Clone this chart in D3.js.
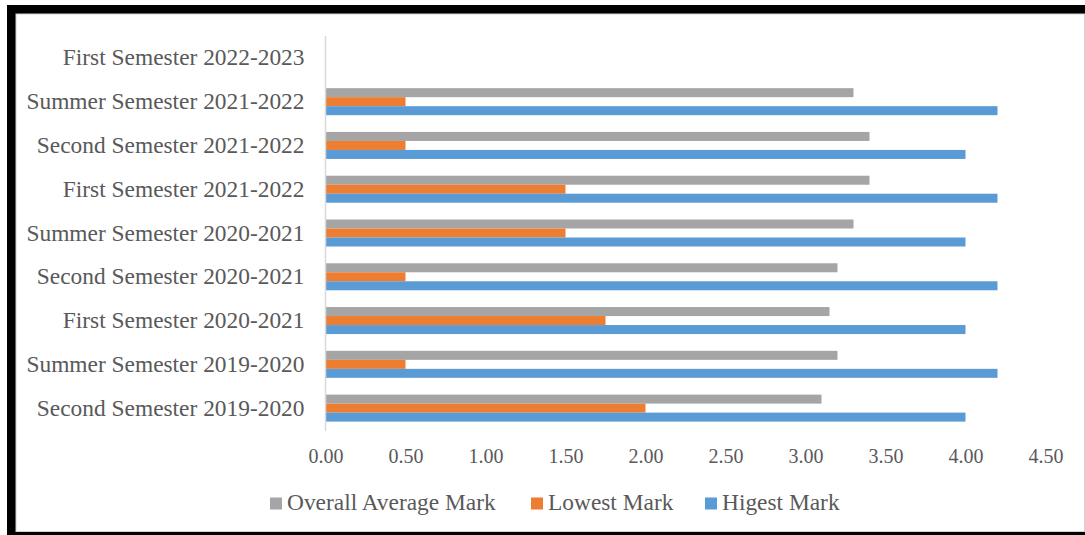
<!DOCTYPE html>
<html>
<head>
<meta charset="utf-8">
<script src="https://cdn.jsdelivr.net/npm/d3@7"></script>
<style>
  html, body { margin: 0; padding: 0; background: #fff; }
  svg { display: block; }
  text { font-family: "Liberation Serif", "Times New Roman", serif; }
</style>
</head>
<body>
<svg id="chart" width="1085" height="535"></svg>
<script>
// ---- Data ----
const categories = [
  "First Semester 2022-2023",
  "Summer Semester 2021-2022",
  "Second Semester 2021-2022",
  "First Semester 2021-2022",
  "Summer Semester 2020-2021",
  "Second Semester 2020-2021",
  "First Semester 2020-2021",
  "Summer Semester 2019-2020",
  "Second Semester 2019-2020"
];
const seriesNames = ["Overall Average Mark", "Lowest Mark", "Higest Mark"];
const averageMark = [null, 3.3, 3.4, 3.4, 3.3, 3.2, 3.15, 3.2, 3.1];
const lowestMark  = [null, 0.5, 0.5, 1.5, 1.5, 0.5, 1.75, 0.5, 2.0];
const highestMark = [null, 4.2, 4.0, 4.2, 4.0, 4.2, 4.0, 4.2, 4.0];
const xTicks = [0, 0.5, 1.0, 1.5, 2.0, 2.5, 3.0, 3.5, 4.0, 4.5];
const seriesColors = ["#A5A5A5", "#ED7D31", "#5B9BD5"];

const seriesValues = [averageMark, lowestMark, highestMark];

const svg = d3.select("#chart");

// Frame
svg.append("rect").attr("x", 7).attr("y", 5).attr("width", 1200).attr("height", 600).attr("fill", "#000");
svg.append("rect").attr("x", 16).attr("y", 14).attr("width", 1068.5).attr("height", 517.5)
  .attr("fill", "#fff").attr("stroke", "#d0d0d0").attr("stroke-width", 1);

// Scales
const x = d3.scaleLinear().domain([0, 4.5]).range([325.5, 1045.5]);
const y0 = d3.scaleBand().domain(categories).range([36, 430]).paddingInner(0).paddingOuter(0);
const p = (y0.bandwidth() / 9 - 3) / 2;
const y1 = d3.scaleBand().domain(seriesNames).range([0, y0.bandwidth()]).paddingInner(0).paddingOuter(p);
const color = d3.scaleOrdinal().domain(seriesNames).range(seriesColors);

// Bars
const rows = categories.map((c, i) => ({
  cat: c,
  vals: seriesNames.map((s, k) => ({ s, v: seriesValues[k][i] }))
}));

const g = svg.append("g");
const groups = g.selectAll("g.row").data(rows).join("g")
  .attr("transform", d => `translate(0,${y0(d.cat)})`);
groups.selectAll("rect").data(d => d.vals.filter(e => e.v != null)).join("rect")
  .attr("x", x(0))
  .attr("y", d => y1(d.s))
  .attr("width", d => x(d.v) - x(0))
  .attr("height", y1.bandwidth())
  .attr("fill", d => color(d.s));

// Category axis line
svg.append("line")
  .attr("x1", x(0)).attr("x2", x(0))
  .attr("y1", 36).attr("y2", 431)
  .attr("stroke", "#d9d9d9").attr("stroke-width", 1.5);

// Category labels
const yAxis = d3.axisLeft(y0).tickSize(0).tickPadding(21);
const yg = svg.append("g").attr("transform", `translate(${x(0)},0)`).call(yAxis);
yg.select(".domain").remove();
yg.selectAll("text")
  .attr("font-family", "Liberation Serif, Times New Roman, serif")
  .attr("font-size", 23.4)
  .attr("fill", "#595959")
  .attr("dy", "0.32em");

// Value axis labels
const xAxis = d3.axisBottom(x).tickValues(xTicks).tickFormat(d3.format(".2f")).tickSize(0).tickPadding(0);
const xg = svg.append("g").attr("transform", `translate(0,449)`).call(xAxis);
xg.select(".domain").remove();
xg.selectAll("text")
  .attr("font-family", "Liberation Serif, Times New Roman, serif")
  .attr("font-size", 20)
  .attr("fill", "#595959")
  .attr("dy", "0.71em");

// Legend
const legendX = [270, 531, 705];
const lg = svg.append("g");
seriesNames.forEach((s, i) => {
  lg.append("rect")
    .attr("x", legendX[i]).attr("y", 497.5)
    .attr("width", 12).attr("height", 12)
    .attr("fill", color(s));
  lg.append("text")
    .attr("x", legendX[i] + 17).attr("y", 510)
    .attr("font-size", 23.4)
    .attr("fill", "#595959")
    .text(s);
});
</script>
</body>
</html>
